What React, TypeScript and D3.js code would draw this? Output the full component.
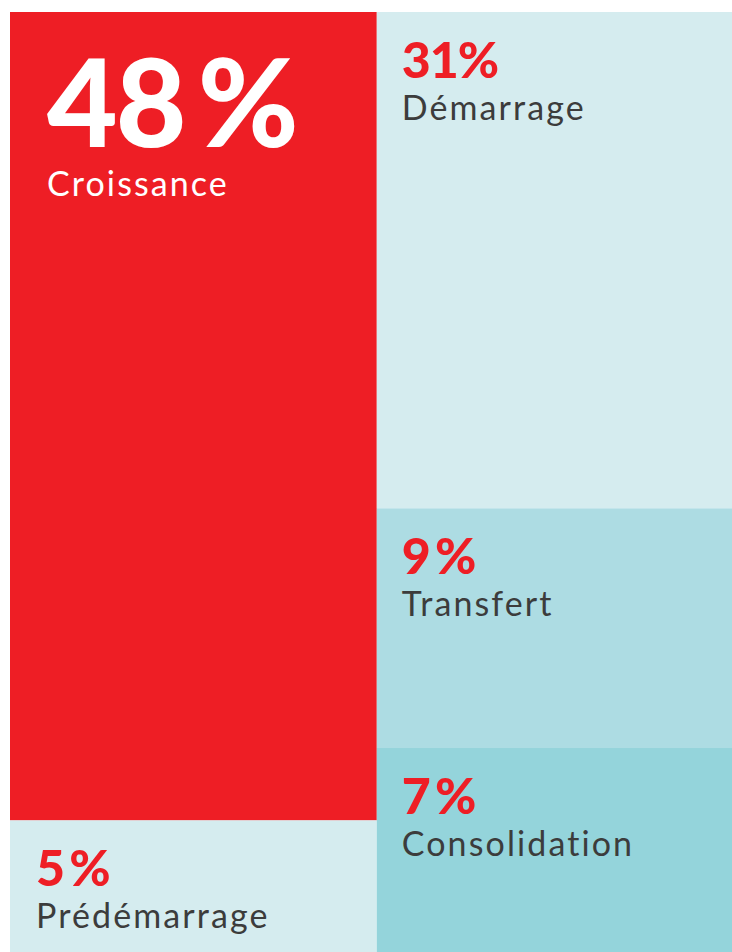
import React from "react";
import * as d3 from "d3";

const categories = ["Croissance", "Prédémarrage", "Démarrage", "Transfert", "Consolidation"];
const values = [48, 5, 31, 9, 7];
const columns = [0, 0, 1, 1, 1];
// stylised layout (fractions of the panel), separate from the data
const colSplit = [0, 0.508, 1];
const rowBreaks = [
  [0, 0.86, 1],
  [0, 0.528, 0.783, 1],
];
const fills = ["#EE1E25", "#D5ECEF", "#D5ECEF", "#ADDCE3", "#94D4DB"];

const W = 732;
const H = 952;

export default function App() {
  const x = d3.scaleLinear().domain([0, 1]).range([10, 732]);
  const y = d3.scaleLinear().domain([0, 1]).range([12, 952]);
  const rowIdx = [0, 0];
  const cells = categories.map((c, i) => {
    const col = columns[i];
    const r = rowIdx[col]++;
    return {
      name: c,
      value: values[i],
      x0: x(colSplit[col]),
      x1: x(colSplit[col + 1]),
      y0: y(rowBreaks[col][r]),
      y1: y(rowBreaks[col][r + 1]),
      fill: fills[i],
      big: i === 0,
    };
  });
  return (
    <svg width={W} height={H} style={{ position: "absolute", left: 0, top: 0 }}>
      {cells.map((d) => (
        <rect key={"r" + d.name} x={d.x0} y={d.y0} width={d.x1 - d.x0} height={d.y1 - d.y0} fill={d.fill} />
      ))}
      {cells.map((d) => {
        const big = d.big;
        const tx = d.x0 + (big ? 37 : d.x0 < 100 ? 26 : 25);
        const numBase = d.y0 + (big ? 135 : 66);
        const labBase = d.y0 + (big ? 184 : 108);
        const pctText = d.value === 31 ? `${d.value}%` : `${d.value}\u2009%`;
        return (
          <g key={"t" + d.name}>
            <text
              x={tx}
              y={numBase}
              fill={big ? "#FFFFFF" : "#EE1E25"}
              fontFamily="Lato, sans-serif"
              fontWeight={900}
              fontSize={big ? 122 : 50}
              letterSpacing={big ? -2 : -1}
            >
              {pctText}
            </text>
            <text
              x={tx}
              y={labBase}
              fill={big ? "#FFFFFF" : "#3C3C3C"}
              fontFamily="Lato, sans-serif"
              fontWeight={400}
              fontSize={34}
              letterSpacing={2.1}
            >
              {d.name}
            </text>
          </g>
        );
      })}
    </svg>
  );
}
